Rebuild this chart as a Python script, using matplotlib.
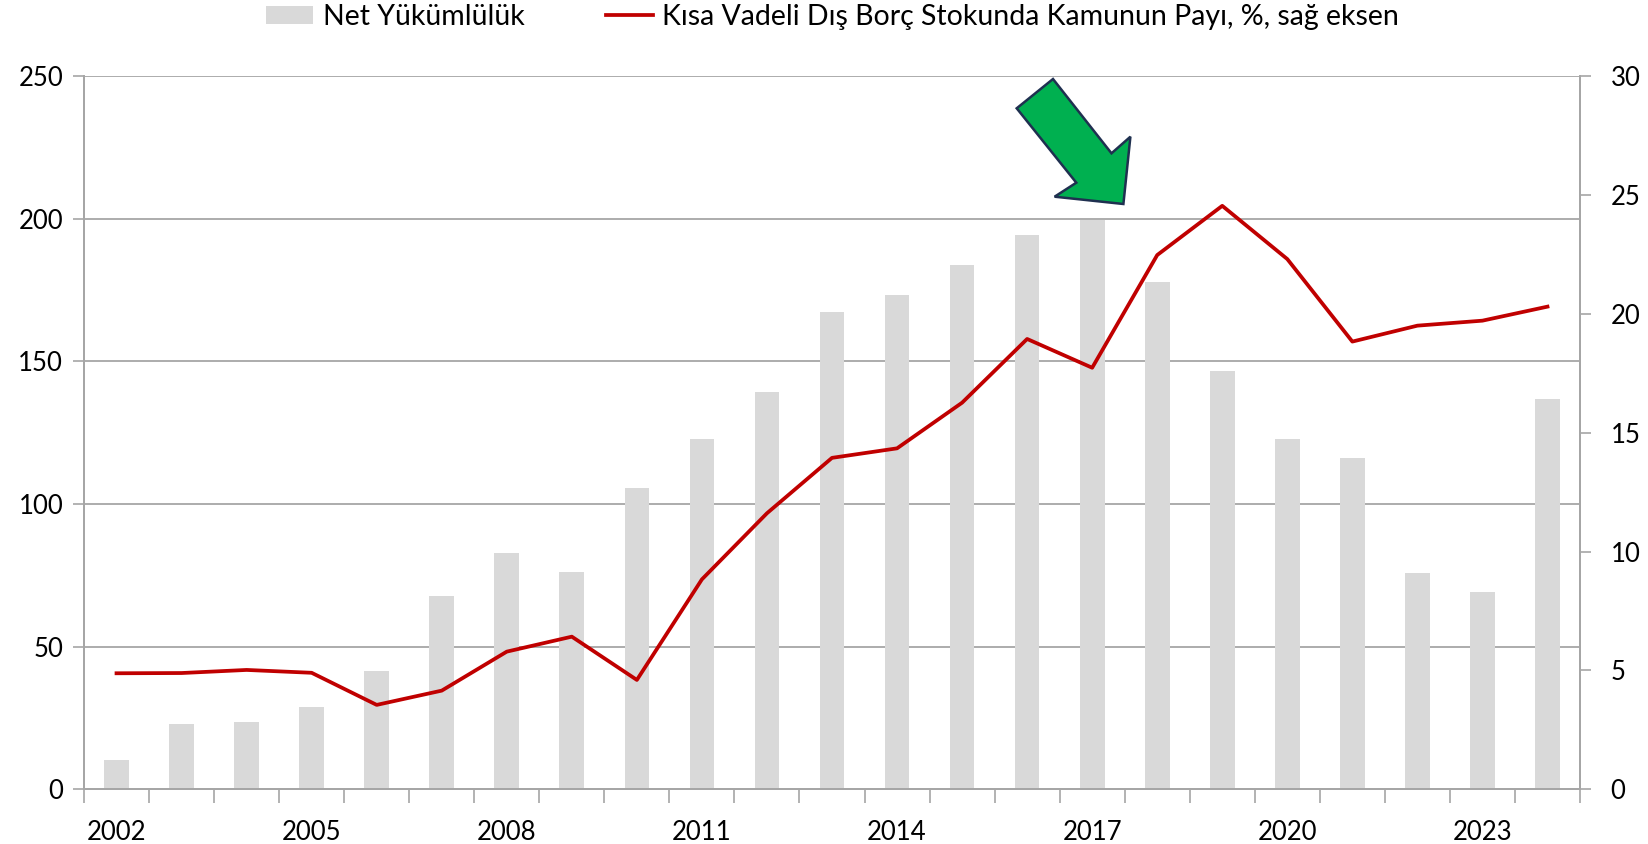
import matplotlib
matplotlib.use("Agg")
import matplotlib.pyplot as plt
from matplotlib.patches import Polygon
from matplotlib.lines import Line2D
from matplotlib.patches import Patch
import numpy as np

years = list(range(2002, 2025))
net_yukumluluk = [10.3, 22.9, 23.6, 29.0, 41.6, 67.8, 82.9, 76.3, 105.6, 122.9,
                  139.3, 167.2, 173.4, 183.7, 194.3, 199.4, 177.9, 146.7, 122.8,
                  116.1, 75.8, 69.2, 136.7]
kamu_payi = [4.88, 4.89, 5.02, 4.90, 3.55, 4.15, 5.79, 6.42, 4.60, 8.83, 11.61,
             13.94, 14.34, 16.26, 18.94, 17.73, 22.47, 24.54, 22.30, 18.83,
             19.50, 19.71, 20.30]
label_bar = "Net Yükümlülük"
label_line = "Kısa Vadeli Dış Borç Stokunda Kamunun Payı, %, sağ eksen"
left_ticks = [0, 50, 100, 150, 200, 250]
right_ticks = [0, 5, 10, 15, 20, 25, 30]

plt.rcParams['font.family'] = ['Lato', 'DejaVu Sans']
W, H = 1649, 844
fig = plt.figure(figsize=(W / 100, H / 100), dpi=100)
x0, x1, ytop, ybot = 84, 1580, 76, 789.3
ax = fig.add_axes([x0 / W, (H - ybot) / H, (x1 - x0) / W, (ybot - ytop) / H])
ax2 = ax.twinx()

grid_c = '#A6A6A6'
tick_fs = 18.5
pos = np.arange(len(years))
ax.set_axisbelow(True)
ax.yaxis.grid(True, color=grid_c, linewidth=1.3)
ax.bar(pos, net_yukumluluk, width=0.38, color='#D9D9D9', zorder=2)
ax.set_ylim(0, 250)
ax.set_yticks(left_ticks)
ax.set_xlim(-0.5, len(years) - 0.5)
ax.set_xticks(np.arange(-0.5, len(years), 1.0))
ax.set_xticklabels([])
ax.set_xticks(pos[::3], minor=True)
ax.set_xticklabels([str(y) for y in years[::3]], minor=True)
ax.tick_params(axis='x', which='major', length=10, width=1.2, color=grid_c, direction='out')
ax.tick_params(axis='x', which='minor', length=0, pad=22, labelsize=tick_fs)
ax.tick_params(axis='y', length=8, width=1.2, color=grid_c, labelsize=tick_fs, pad=7)

ax2.plot(pos, kamu_payi, color='#C00000', linewidth=2.7, zorder=5)
ax2.set_ylim(0, 30)
ax2.set_yticks(right_ticks)
ax2.tick_params(axis='y', length=8, width=1.2, color=grid_c, labelsize=tick_fs, pad=14)

for a in (ax, ax2):
    a.spines['top'].set_visible(False)
    for s in ('left', 'right', 'bottom'):
        a.spines[s].set_color(grid_c)
        a.spines[s].set_linewidth(1.3)

# Legend
handles = [Patch(facecolor='#D9D9D9', edgecolor='none', label=label_bar),
           Line2D([0], [0], color='#C00000', linewidth=2.7, label=label_line)]
fig.legend(handles=handles, loc='center', bbox_to_anchor=(0.505, 1 - 17 / H), ncol=2,
           frameon=False, fontsize=20.5, handlelength=1.65, handleheight=0.6,
           handletextpad=0.33, columnspacing=2.85, borderpad=0, borderaxespad=0)

# Green arrow annotation (pixel coordinates of the figure)
arrow_px = [(1053, 79), (1016.7, 108.3), (1076.3, 182.7), (1054.6, 196.7),
            (1123.4, 204), (1130.4, 136.7), (1111.5, 153.3)]
arrow_fig = [(px / W, 1 - py / H) for px, py in arrow_px]
fig.patches.append(Polygon(arrow_fig, closed=True, transform=fig.transFigure,
                           facecolor='#00B050', edgecolor='#1F3050', linewidth=1.8,
                           zorder=10))

fig.savefig('out.png', dpi=100)
